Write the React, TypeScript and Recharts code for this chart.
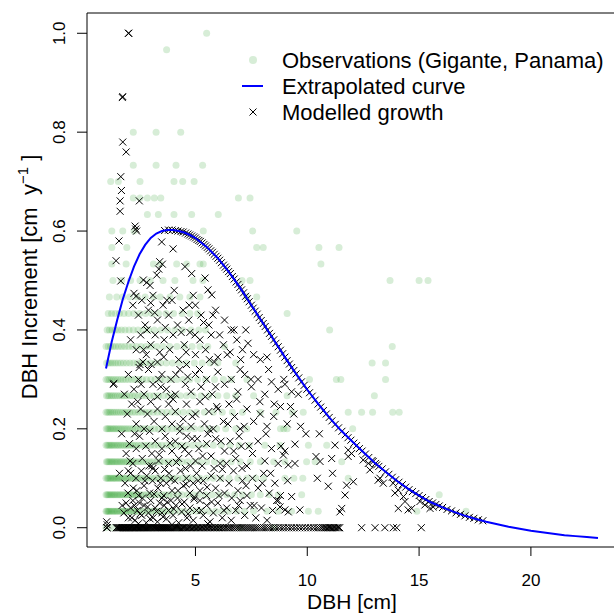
import { ScatterChart, Scatter, XAxis, YAxis, ReferenceArea, Legend } from "recharts";

const FONT = '"Liberation Sans", Arial, Helvetica, sans-serif';
const OBS_FILL = "#1f9a1f";
const CURVE_BLUE = "#0000ff";

// Observed increments come in 1/30 cm steps: each row = [increment, DBH values at that step]
const obsRows: [number, number[]][] = [
	[0, [1.0, 1.3, 1.6, 2.0, 2.5, 3.0, 3.6, 4.2, 5.0, 6.0, 7.0, 8.5]],
	[0.0333, [1.0, 1.04, 1.09, 1.13, 1.18, 1.24, 1.3, 1.35, 1.41, 1.47, 1.52, 1.6, 1.66, 1.73, 1.8, 1.88, 1.95, 2.03, 2.1, 2.19, 2.28, 2.36, 2.45, 2.6, 2.72, 2.86, 3.0, 3.12, 3.27, 3.4, 3.55, 3.7, 3.88, 4.05, 4.3, 4.52, 4.8, 5.05, 5.3, 5.6, 5.9, 6.2, 6.5, 6.85, 7.2, 7.6, 8.2, 8.7, 9.3, 10.05, 10.49, 14.9, 17.1]],
	[0.0667, [1.0, 1.05, 1.1, 1.16, 1.21, 1.27, 1.33, 1.38, 1.45, 1.51, 1.58, 1.64, 1.71, 1.78, 1.86, 1.93, 2.01, 2.09, 2.17, 2.26, 2.35, 2.44, 2.55, 2.67, 2.8, 2.93, 3.06, 3.2, 3.34, 3.5, 3.66, 3.82, 4.0, 4.2, 4.4, 4.65, 4.9, 5.15, 5.45, 5.75, 6.05, 6.4, 6.75, 7.1, 7.5, 7.9, 8.3, 8.7, 9.75, 15.9]],
	[0.1, [1.0, 1.06, 1.11, 1.17, 1.22, 1.29, 1.34, 1.4, 1.46, 1.53, 1.59, 1.66, 1.73, 1.81, 1.89, 1.97, 2.05, 2.14, 2.23, 2.32, 2.42, 2.53, 2.64, 2.77, 2.9, 3.04, 3.18, 3.33, 3.48, 3.65, 3.82, 4.0, 4.2, 4.42, 4.65, 4.9, 5.2, 5.5, 5.8, 6.15, 6.5, 6.9, 7.3, 7.7, 8.05, 9.0, 9.4, 9.8, 11.83]],
	[0.1333, [1.02, 1.07, 1.13, 1.19, 1.25, 1.31, 1.37, 1.44, 1.5, 1.57, 1.64, 1.71, 1.79, 1.87, 1.95, 2.04, 2.13, 2.22, 2.32, 2.43, 2.55, 2.68, 2.82, 2.96, 3.1, 3.26, 3.42, 3.6, 3.78, 3.97, 4.18, 4.4, 4.65, 4.92, 5.2, 5.5, 5.85, 6.2, 6.6, 7.0, 7.45, 7.9, 8.5, 9.0, 9.97, 10.35, 11.54]],
	[0.1667, [1.0, 1.06, 1.12, 1.18, 1.24, 1.3, 1.37, 1.44, 1.51, 1.58, 1.66, 1.74, 1.82, 1.91, 2.0, 2.1, 2.2, 2.31, 2.43, 2.56, 2.7, 2.85, 3.0, 3.16, 3.33, 3.5, 3.7, 3.9, 4.12, 4.35, 4.6, 4.88, 5.15, 5.45, 5.8, 6.15, 6.55, 6.95, 7.4, 8.1, 8.78, 10.05, 10.87]],
	[0.2, [1.01, 1.07, 1.13, 1.19, 1.26, 1.33, 1.4, 1.47, 1.55, 1.63, 1.71, 1.8, 1.89, 1.98, 2.08, 2.19, 2.3, 2.42, 2.55, 2.69, 2.84, 3.0, 3.17, 3.35, 3.54, 3.74, 3.95, 4.18, 4.42, 4.68, 4.95, 5.25, 5.6, 5.95, 6.35, 6.8, 7.3, 8.8, 8.95, 9.1, 12.03]],
	[0.2333, [1.0, 1.07, 1.14, 1.21, 1.29, 1.37, 1.46, 1.55, 1.64, 1.74, 1.84, 1.95, 2.06, 2.18, 2.31, 2.45, 2.6, 2.76, 2.93, 3.11, 3.3, 3.5, 3.72, 3.95, 4.2, 4.46, 4.75, 5.05, 5.4, 5.8, 6.2, 6.65, 7.1, 7.9, 8.6, 9.33, 9.82, 11.83, 12.43, 12.92, 13.82, 14.11]],
	[0.2667, [1.02, 1.09, 1.16, 1.24, 1.32, 1.41, 1.5, 1.6, 1.7, 1.81, 1.92, 2.04, 2.17, 2.3, 2.45, 2.6, 2.77, 2.95, 3.14, 3.34, 3.56, 3.8, 4.05, 4.32, 4.6, 4.9, 5.25, 5.6, 6.0, 6.4, 6.8, 7.6, 9.1, 13.0]],
	[0.3, [1.0, 1.08, 1.16, 1.25, 1.34, 1.44, 1.54, 1.65, 1.76, 1.88, 2.01, 2.15, 2.3, 2.46, 2.63, 2.81, 3.0, 3.2, 3.42, 3.65, 3.9, 4.17, 4.45, 4.75, 5.1, 5.45, 5.85, 6.25, 6.6, 7.3, 10.1, 11.3, 11.5, 13.5]],
	[0.3333, [1.03, 1.12, 1.21, 1.31, 1.42, 1.53, 1.65, 1.78, 1.92, 2.07, 2.23, 2.4, 2.58, 2.77, 2.98, 3.2, 3.44, 3.7, 3.98, 4.28, 4.6, 4.95, 5.3, 5.65, 6.0, 6.8, 12.9, 13.5]],
	[0.3667, [1.0, 1.1, 1.2, 1.31, 1.43, 1.56, 1.7, 1.85, 2.01, 2.18, 2.37, 2.57, 2.79, 3.02, 3.27, 3.55, 3.85, 4.17, 4.5, 4.85, 5.2, 5.55, 6.3, 13.8]],
	[0.4, [1.05, 1.15, 1.27, 1.4, 1.54, 1.69, 1.85, 2.03, 2.22, 2.43, 2.66, 2.9, 3.16, 3.45, 3.75, 4.08, 4.42, 4.8, 5.15, 5.45, 11.0]],
	[0.4333, [1.1, 1.25, 1.42, 1.6, 1.8, 2.01, 2.24, 2.5, 2.77, 3.05, 3.35, 3.68, 4.02, 4.4, 4.75, 5.1, 9.1]],
	[0.4667, [1.15, 1.48, 1.75, 2.05, 2.4, 2.75, 3.12, 3.42, 3.86, 4.3, 4.75, 5.2, 7.29, 7.74]],
	[0.5, [1.31, 1.7, 2.1, 2.52, 2.97, 3.55, 4.08, 4.89, 5.33, 7.08, 7.44, 13.7, 15.0, 15.4]],
	[0.5333, [1.26, 1.9, 3.12, 3.42, 4.16, 4.61, 5.2, 5.35, 10.61]],
	[0.5667, [1.26, 1.93, 7.74, 8.03, 10.52, 11.42]],
	[0.6, [1.26, 1.75, 2.25, 5.35, 7.56, 9.53]],
	[0.6333, [2.85, 3.34, 4.04, 4.83, 6.02]],
	[0.6667, [2.22, 2.52, 2.85, 3.16, 3.45, 6.92, 7.44]],
	[0.7, [1.21, 1.55, 2.52, 4.04, 4.43, 4.94]],
	[0.7333, [2.22, 3.24, 4.13, 5.32]],
	[0.8, [2.22, 3.24, 4.34]],
	[0.9667, [3.71]],
	[1.0, [5.5]],
];

// extrapolated growth curve
const curveDbh = [1.0, 1.25, 1.5, 1.75, 2.0, 2.25, 2.5, 2.75, 3.0, 3.25, 3.5, 3.75, 4.0, 4.25, 4.5, 4.75, 5.0, 5.5, 6.0, 6.5, 7.0, 7.5, 8.0, 8.5, 9.0, 9.5, 10.0, 10.5, 11.0, 11.5, 12.0, 12.5, 13.0, 13.5, 14.0, 14.5, 15.0, 15.5, 16.0, 16.5, 17.0, 17.5, 18.0, 18.5, 19.0, 19.5, 20.0, 20.5, 21.0, 21.5, 22.0, 22.5, 23.0];
const curveInc = [0.322, 0.375, 0.42, 0.462, 0.497, 0.528, 0.553, 0.572, 0.586, 0.595, 0.6, 0.602, 0.602, 0.6, 0.597, 0.592, 0.586, 0.568, 0.545, 0.517, 0.485, 0.45, 0.415, 0.38, 0.345, 0.311, 0.279, 0.25, 0.222, 0.197, 0.175, 0.153, 0.132, 0.113, 0.095, 0.079, 0.065, 0.052, 0.042, 0.033, 0.025, 0.018, 0.012, 0.007, 0.002, -0.002, -0.006, -0.009, -0.012, -0.015, -0.017, -0.019, -0.021];

// modelled growth: trees with zero increment (DBH only)
const modelZeroDbh = [
	1.03, 1.03, 1.05, 1.46, 1.49, 1.53, 1.56, 1.6, 1.63, 1.67, 1.7, 1.74, 1.77, 1.81, 1.84, 1.88, 1.91, 1.95, 1.98, 2.02, 2.05, 2.09, 2.13,
	2.16, 2.2, 2.24, 2.27, 2.31, 2.35, 2.38, 2.42, 2.46, 2.5, 2.53, 2.57, 2.61, 2.65, 2.69, 2.73, 2.77, 2.81, 2.85, 2.89, 2.93, 2.97, 3.01,
	3.05, 3.1, 3.14, 3.18, 3.22, 3.27, 3.31, 3.35, 3.4, 3.44, 3.49, 3.53, 3.58, 3.62, 3.67, 3.71, 3.76, 3.81, 3.85, 3.9, 3.95, 4.0, 4.05,
	4.1, 4.15, 4.2, 4.25, 4.3, 4.35, 4.41, 4.46, 4.51, 4.57, 4.62, 4.68, 4.73, 4.79, 4.85, 4.9, 4.96, 5.02, 5.08, 5.14, 5.2, 5.26, 5.32,
	5.38, 5.45, 5.51, 5.57, 5.64, 5.7, 5.77, 5.84, 5.9, 5.97, 6.04, 6.11, 6.18, 6.25, 6.33, 6.4, 6.48, 6.55, 6.63, 6.71, 6.79, 6.87, 6.95,
	7.04, 7.12, 7.21, 7.3, 7.39, 7.48, 7.57, 7.67, 7.76, 7.86, 7.96, 8.06, 8.16, 8.27, 8.37, 8.48, 8.59, 8.7, 8.82, 8.93, 9.05, 9.17, 9.29,
	9.41, 9.53, 9.66, 9.78, 9.91, 10.04, 10.16, 10.28, 10.4, 10.5, 10.6, 10.68, 10.75, 10.82, 10.88, 10.94, 11.0, 11.05, 11.1, 11.16, 11.22,
	11.28, 11.34, 11.4, 11.45, 12.43, 13.03, 13.47, 13.85, 14.0, 15.1,
];

// modelled growth of trees sitting on the curve
const modelOnCurve: [number, number][] = [
	[3.62, 0.601], [3.8, 0.602], [3.95, 0.602], [4.1, 0.601], [4.22, 0.6], [4.35, 0.599], [4.45, 0.598], [4.56, 0.596], [4.66, 0.594], [4.74, 0.592],
	[4.83, 0.59], [4.92, 0.588], [5.0, 0.586], [5.07, 0.583], [5.15, 0.581], [5.22, 0.579], [5.3, 0.576], [5.38, 0.573], [5.45, 0.57], [5.53, 0.567],
	[5.6, 0.564], [5.68, 0.56], [5.76, 0.557], [5.84, 0.553], [5.92, 0.549], [6.0, 0.545], [6.08, 0.541], [6.16, 0.536], [6.25, 0.531], [6.33, 0.527],
	[6.4, 0.523], [6.48, 0.518], [6.56, 0.514], [6.65, 0.508], [6.73, 0.503], [6.82, 0.497], [6.9, 0.492], [6.98, 0.486], [7.06, 0.481], [7.15, 0.475],
	[7.24, 0.468], [7.32, 0.463], [7.4, 0.457], [7.5, 0.45], [7.58, 0.444], [7.67, 0.438], [7.76, 0.432], [7.85, 0.425], [7.94, 0.419], [8.03, 0.413],
	[8.12, 0.407], [8.22, 0.4], [8.31, 0.393], [8.4, 0.387], [8.5, 0.38], [8.6, 0.373], [8.7, 0.366], [8.8, 0.359], [8.9, 0.352], [9.0, 0.345],
	[9.1, 0.338], [9.2, 0.331], [9.3, 0.324], [9.4, 0.318], [9.5, 0.311], [9.62, 0.303], [9.74, 0.295], [9.86, 0.288], [9.98, 0.28], [10.1, 0.273],
	[10.22, 0.266], [10.35, 0.258], [10.48, 0.25], [10.6, 0.244], [10.72, 0.237], [10.85, 0.23], [10.98, 0.223], [11.1, 0.216], [11.25, 0.209], [11.4, 0.202],
	[11.55, 0.195], [11.7, 0.188], [11.82, 0.182], [11.95, 0.177], [12.08, 0.171], [12.2, 0.166], [12.33, 0.16], [12.45, 0.155], [12.6, 0.149], [12.75, 0.142],
	[12.9, 0.136], [13.05, 0.13], [13.2, 0.124], [13.35, 0.119], [13.5, 0.113], [13.65, 0.108], [13.8, 0.102], [13.95, 0.097], [14.1, 0.092], [14.25, 0.087],
	[14.4, 0.082], [14.55, 0.077], [14.7, 0.073], [14.85, 0.069], [15.0, 0.065], [15.15, 0.061], [15.3, 0.057], [15.45, 0.053], [15.6, 0.05], [15.75, 0.047],
	[15.9, 0.044], [16.05, 0.041], [16.25, 0.037], [16.45, 0.034], [16.65, 0.03], [16.85, 0.027], [17.05, 0.024], [17.25, 0.021], [17.45, 0.019], [17.65, 0.016],
	[17.85, 0.014],
];

// modelled growth of trees below the curve (DBH, increment)
const modelScatter: [number, number][] = [
	// small stems well above the curve
	[2.0, 1.0], [2.02, 1.0], [1.73, 0.87], [1.75, 0.872], [1.75, 0.78], [1.9, 0.76], [1.66, 0.71], [1.69, 0.682], [1.63, 0.661], [1.63, 0.64],
	[2.49, 0.661], [2.3, 0.61], [2.37, 0.6], [2.33, 0.604], [1.58, 0.58], [1.45, 0.54], [1.66, 0.499], [3.49, 0.578], [4.0, 0.564], [3.4, 0.538],
	[3.52, 0.533], [3.36, 0.523], [3.27, 0.511], [2.67, 0.501], [2.82, 0.496], [2.97, 0.49], [2.25, 0.474], [2.34, 0.468], [4.53, 0.528], [4.83, 0.514],
	[5.43, 0.505], [5.56, 0.481], [5.73, 0.471], [1.33, 0.29], [1.35, 0.292], [2.48, 0.324], [2.52, 0.33], [1.03, 0.012], [1.05, 0.006],
	// 0.40 - 0.48
	[2.2, 0.45], [2.45, 0.43], [2.6, 0.46], [2.9, 0.44], [3.1, 0.47], [3.3, 0.42], [3.55, 0.45], [3.8, 0.43], [3.95, 0.46], [4.2, 0.41],
	[4.45, 0.44], [4.7, 0.42], [5.0, 0.45], [5.25, 0.43], [5.6, 0.41], [5.9, 0.44], [6.3, 0.42], [6.6, 0.4], [2.75, 0.41], [3.65, 0.405],
	[4.9, 0.47], [4.05, 0.48], [3.0, 0.455], [2.83, 0.4], [3.18, 0.435], [3.72, 0.46], [4.36, 0.395], [4.72, 0.45], [4.98, 0.39], [5.36, 0.415],
	[5.78, 0.43], [6.08, 0.39], [6.72, 0.4], [7.25, 0.4],
	// 0.33 - 0.40
	[2.1, 0.38], [2.35, 0.36], [2.55, 0.39], [2.8, 0.35], [3.0, 0.37], [3.2, 0.39], [3.4, 0.355], [3.6, 0.38], [3.85, 0.36], [4.0, 0.39],
	[4.25, 0.34], [4.5, 0.37], [4.75, 0.395], [5.0, 0.35], [5.2, 0.38], [5.45, 0.36], [5.7, 0.39], [6.0, 0.345], [6.25, 0.37], [6.55, 0.355],
	[6.85, 0.38], [7.1, 0.36], [7.35, 0.373], [7.6, 0.35], [7.9, 0.34], [8.2, 0.345], [3.3, 0.335], [4.6, 0.33], [5.85, 0.335], [2.65, 0.335],
	[2.68, 0.36], [3.02, 0.33], [3.58, 0.345], [4.58, 0.355], [5.62, 0.34], [6.42, 0.35], [7.02, 0.34],
	// 0.26 - 0.33
	[2.0, 0.31], [2.25, 0.28], [2.45, 0.3], [2.7, 0.27], [2.9, 0.32], [3.1, 0.29], [3.3, 0.265], [3.5, 0.31], [3.7, 0.28], [3.9, 0.3],
	[4.1, 0.27], [4.3, 0.32], [4.55, 0.29], [4.8, 0.275], [5.0, 0.31], [5.25, 0.285], [5.5, 0.3], [5.75, 0.27], [6.0, 0.315], [6.3, 0.29],
	[6.6, 0.3], [6.9, 0.275], [7.2, 0.31], [7.5, 0.285], [7.8, 0.3], [8.1, 0.27], [8.4, 0.295], [8.7, 0.28], [9.0, 0.29], [9.3, 0.275],
	[3.45, 0.285], [4.65, 0.305], [5.9, 0.285], [7.0, 0.32], [2.57, 0.29], [3.36, 0.3], [3.88, 0.265], [4.12, 0.31], [5.18, 0.32], [5.44, 0.265],
	[6.84, 0.26], [7.48, 0.3], [8.27, 0.32], [8.95, 0.3], [9.6, 0.27], [1.82, 0.27],
	// 0.19 - 0.26
	[1.95, 0.23], [2.15, 0.25], [2.35, 0.21], [2.55, 0.24], [2.7, 0.2], [2.85, 0.23], [3.0, 0.255], [3.15, 0.215], [3.3, 0.24], [3.5, 0.2],
	[3.65, 0.225], [3.8, 0.25], [3.95, 0.21], [4.1, 0.235], [4.3, 0.195], [4.45, 0.22], [4.6, 0.25], [4.8, 0.205], [5.0, 0.23], [5.2, 0.255],
	[5.4, 0.21], [5.6, 0.235], [5.8, 0.2], [6.0, 0.24], [6.25, 0.215], [6.5, 0.25], [6.75, 0.225], [7.0, 0.2], [7.3, 0.24], [7.6, 0.215],
	[7.9, 0.23], [8.2, 0.205], [8.5, 0.225], [8.8, 0.245], [9.1, 0.21], [9.4, 0.23], [9.7, 0.205], [2.95, 0.195], [4.0, 0.26], [5.55, 0.19],
	[2.28, 0.19], [2.42, 0.255], [4.31, 0.205], [4.86, 0.225], [5.63, 0.198], [5.95, 0.245], [6.45, 0.21], [7.18, 0.205], [7.88, 0.255], [8.52, 0.25],
	[9.25, 0.245], [1.7, 0.19],
	// 0.12 - 0.19
	[1.9, 0.15], [2.05, 0.17], [2.2, 0.13], [2.35, 0.16], [2.5, 0.185], [2.62, 0.14], [2.78, 0.165], [2.92, 0.125], [3.05, 0.15], [3.2, 0.175],
	[3.35, 0.135], [3.5, 0.16], [3.65, 0.185], [3.8, 0.13], [3.95, 0.155], [4.1, 0.175], [4.25, 0.14], [4.4, 0.165], [4.55, 0.12], [4.7, 0.15],
	[4.85, 0.18], [5.0, 0.135], [5.15, 0.16], [5.3, 0.125], [5.5, 0.17], [5.7, 0.145], [5.9, 0.18], [6.1, 0.13], [6.3, 0.155], [6.55, 0.175],
	[6.8, 0.14], [7.05, 0.165], [7.3, 0.125], [7.55, 0.15], [7.8, 0.175], [8.1, 0.135], [8.4, 0.16], [8.7, 0.13], [9.0, 0.155], [3.1, 0.12],
	[4.6, 0.185], [6.95, 0.185], [2.08, 0.135], [3.38, 0.148], [3.86, 0.171], [4.15, 0.132], [4.52, 0.158], [5.08, 0.18], [5.32, 0.145], [6.14, 0.175],
	[6.38, 0.13], [6.71, 0.155], [7.4, 0.165], [8.15, 0.19], [8.82, 0.165], [9.45, 0.13],
	// 0.06 - 0.12
	[1.85, 0.09], [1.98, 0.07], [2.1, 0.11], [2.22, 0.08], [2.34, 0.1], [2.46, 0.065], [2.58, 0.115], [2.7, 0.085], [2.82, 0.105], [2.95, 0.07],
	[3.08, 0.095], [3.2, 0.115], [3.32, 0.08], [3.45, 0.1], [3.58, 0.065], [3.7, 0.09], [3.82, 0.11], [3.95, 0.075], [4.08, 0.095], [4.2, 0.06],
	[4.33, 0.115], [4.46, 0.085], [4.6, 0.1], [4.75, 0.07], [4.9, 0.09], [5.05, 0.11], [5.2, 0.075], [5.35, 0.095], [5.5, 0.065], [5.7, 0.105],
	[5.9, 0.08], [6.1, 0.1], [6.3, 0.07], [6.5, 0.09], [6.7, 0.115], [6.9, 0.075], [7.1, 0.095], [7.3, 0.065], [7.55, 0.1], [7.8, 0.08],
	[8.05, 0.11], [8.3, 0.07], [8.55, 0.09], [8.8, 0.065], [2.0, 0.115], [3.5, 0.06], [4.95, 0.062], [6.2, 0.118], [2.38, 0.075], [2.63, 0.06],
	[2.74, 0.095], [3.04, 0.125], [3.15, 0.068], [3.43, 0.09], [3.62, 0.118], [3.9, 0.098], [4.22, 0.075], [4.58, 0.088], [4.78, 0.125], [5.12, 0.095],
	[5.52, 0.082], [5.83, 0.12], [6.05, 0.065], [6.62, 0.06], [7.08, 0.12], [7.26, 0.085], [7.99, 0.09], [8.36, 0.11], [9.12, 0.095], [1.6, 0.11],
	// 0.005 - 0.06
	[1.8, 0.03], [1.9, 0.05], [2.0, 0.02], [2.1, 0.04], [2.2, 0.055], [2.3, 0.015], [2.4, 0.035], [2.5, 0.05], [2.6, 0.025], [2.7, 0.045],
	[2.8, 0.01], [2.9, 0.03], [3.0, 0.055], [3.1, 0.02], [3.2, 0.04], [3.3, 0.012], [3.4, 0.05], [3.5, 0.03], [3.6, 0.045], [3.7, 0.018],
	[3.8, 0.035], [3.9, 0.055], [4.0, 0.025], [4.12, 0.045], [4.25, 0.01], [4.38, 0.032], [4.5, 0.052], [4.62, 0.02], [4.75, 0.04], [4.9, 0.015],
	[5.05, 0.035], [5.2, 0.055], [5.35, 0.025], [5.5, 0.045], [5.65, 0.012], [5.8, 0.03], [6.0, 0.05], [6.2, 0.02], [6.4, 0.04], [6.6, 0.015],
	[6.8, 0.035], [7.0, 0.055], [7.2, 0.025], [7.45, 0.045], [7.7, 0.02], [7.95, 0.04], [8.2, 0.015], [8.45, 0.035], [8.7, 0.055], [2.45, 0.008],
	[3.95, 0.006], [5.55, 0.008], [2.15, 0.02], [2.27, 0.045], [2.52, 0.028], [2.86, 0.042], [2.97, 0.018], [3.26, 0.033], [3.55, 0.022], [3.74, 0.052],
	[4.03, 0.038], [4.4, 0.048], [4.67, 0.028], [4.94, 0.058], [5.26, 0.035], [5.72, 0.052], [6.27, 0.035], [6.93, 0.045], [7.62, 0.045], [8.63, 0.055],
	[1.72, 0.045],
	// larger stems, 9 - 16 cm
	[9.94, 0.19], [10.54, 0.19], [9.45, 0.169], [11.24, 0.167], [8.93, 0.147], [9.15, 0.127], [10.39, 0.144], [10.57, 0.134], [11.09, 0.14], [11.83, 0.157],
	[11.83, 0.144], [11.98, 0.15], [11.13, 0.11], [10.45, 0.1], [10.94, 0.084], [12.06, 0.093], [11.76, 0.086], [11.69, 0.066], [9.3, 0.063], [8.78, 0.042],
	[9.0, 0.036], [9.15, 0.032], [9.67, 0.036], [11.46, 0.032], [11.54, 0.039], [12.5, 0.137], [12.73, 0.13], [12.8, 0.117], [12.95, 0.134], [13.1, 0.127],
	[13.17, 0.096], [13.25, 0.1], [13.4, 0.09], [13.84, 0.09], [14.07, 0.076], [14.3, 0.063], [13.92, 0.07], [14.07, 0.039], [14.51, 0.036], [14.67, 0.039],
	[14.37, 0.053], [15.04, 0.053], [15.26, 0.046], [15.49, 0.039], [15.63, 0.042],
];

const xTicks = [5, 10, 15, 20];
const yTicks = [0, 0.2, 0.4, 0.6, 0.8, 1.0];

const obsData = obsRows.flatMap(([inc, dbhs]) => dbhs.map((x) => ({ x, y: inc })));
const curveData = curveDbh.map((x, i) => ({ x, y: curveInc[i] }));
const modelData = [
	...modelZeroDbh.map((x) => ({ x, y: 0 })),
	...modelScatter.map(([x, y]) => ({ x, y })),
	...modelOnCurve.map(([x, y]) => ({ x, y })),
];

const X_DOMAIN: [number, number] = [0.15, 23.85];
const Y_DOMAIN: [number, number] = [-0.039, 1.041];

function ObsDot(props: any) {
	return <circle cx={props.cx} cy={props.cy} r={3.5} fill={OBS_FILL} fillOpacity={0.18} />;
}

function Cross(props: any) {
	const { cx, cy } = props;
	const s = 3.5;
	return (
		<path
			d={`M${cx - s},${cy - s}L${cx + s},${cy + s}M${cx - s},${cy + s}L${cx + s},${cy - s}`}
			stroke="#000"
			strokeWidth={1}
			fill="none"
		/>
	);
}

function NoDot() {
	return <g />;
}

function XTick(props: any) {
	return (
		<text x={props.x} y={props.y + 28} textAnchor="middle" fontSize={17} fontFamily={FONT} fill="#000">
			{props.payload.value}
		</text>
	);
}

function YTick(props: any) {
	const x = props.x - 10;
	return (
		<text
			x={x}
			y={props.y}
			transform={`rotate(-90 ${x} ${props.y})`}
			textAnchor="middle"
			fontSize={17}
			fontFamily={FONT}
			fill="#000"
		>
			{props.payload.value.toFixed(1)}
		</text>
	);
}

function XTitle(props: any) {
	const vb = props.viewBox;
	return (
		<text x={vb.x + vb.width / 2} y={609} textAnchor="middle" fontSize={21} fontFamily={FONT} fill="#000">
			DBH [cm]
		</text>
	);
}

function YTitle(props: any) {
	const vb = props.viewBox;
	const cy = vb.y + vb.height / 2 - 3;
	return (
		<text
			x={37}
			y={cy}
			transform={`rotate(-90 37 ${cy})`}
			textAnchor="middle"
			fontSize={22}
			fontFamily={FONT}
			fill="#000"
		>
			{"DBH Increment [cm\u00a0 y"}
			<tspan dy={-9} fontSize={15}>
				−1
			</tspan>
			<tspan dy={9}>{"\u00a0]"}</tspan>
		</text>
	);
}

function LegendBox() {
	const textProps = { x: 52, fontSize: 22, fontFamily: FONT, fill: "#000" };
	return (
		<svg width={384} height={100}>
			<circle cx={23} cy={20} r={4} fill={OBS_FILL} fillOpacity={0.18} />
			<text {...textProps} y={28}>
				Observations (Gigante, Panama)
			</text>
			<line x1={12} x2={33} y1={46} y2={46} stroke={CURVE_BLUE} strokeWidth={2} />
			<text {...textProps} y={54}>
				Extrapolated curve
			</text>
			<path d="M19.5,68.5L26.5,75.5M19.5,75.5L26.5,68.5" stroke="#000" strokeWidth={1} fill="none" />
			<text {...textProps} y={80}>
				Modelled growth
			</text>
		</svg>
	);
}

export default function App() {
	return (
		<div style={{ position: "absolute", left: 0, top: 0, width: 614, height: 613, overflow: "hidden", background: "#fff" }}>
			<ScatterChart width={620} height={613} margin={{ top: 13, right: 3, bottom: 0, left: 0 }}>
				<XAxis
					type="number"
					dataKey="x"
					domain={X_DOMAIN}
					ticks={xTicks}
					interval={0}
					allowDataOverflow
					height={66}
					tickSize={9}
					axisLine={false}
					tickLine={{ stroke: "#000" }}
					tick={XTick}
					label={<XTitle />}
				/>
				<YAxis
					type="number"
					dataKey="y"
					domain={Y_DOMAIN}
					ticks={yTicks}
					interval={0}
					allowDataOverflow
					width={87}
					tickSize={10}
					axisLine={false}
					tickLine={{ stroke: "#000" }}
					tick={YTick}
					label={<YTitle />}
				/>
				<Scatter data={obsData} shape={ObsDot} isAnimationActive={false} />
				<Scatter data={modelData} shape={Cross} isAnimationActive={false} />
				<Scatter
					data={curveData}
					shape={NoDot}
					line={{ stroke: CURVE_BLUE, strokeWidth: 2 }}
					lineType="joint"
					isAnimationActive={false}
				/>
				<ReferenceArea
					x1={X_DOMAIN[0]}
					x2={X_DOMAIN[1]}
					y1={Y_DOMAIN[0]}
					y2={Y_DOMAIN[1]}
					fill="none"
					stroke="#000"
					strokeWidth={1}
					ifOverflow="visible"
				/>
				<Legend
					content={LegendBox}
					layout="vertical"
					align="center"
					verticalAlign="middle"
					wrapperStyle={{ left: 230, top: 40, width: 384, height: 100 }}
				/>
			</ScatterChart>
		</div>
	);
}
